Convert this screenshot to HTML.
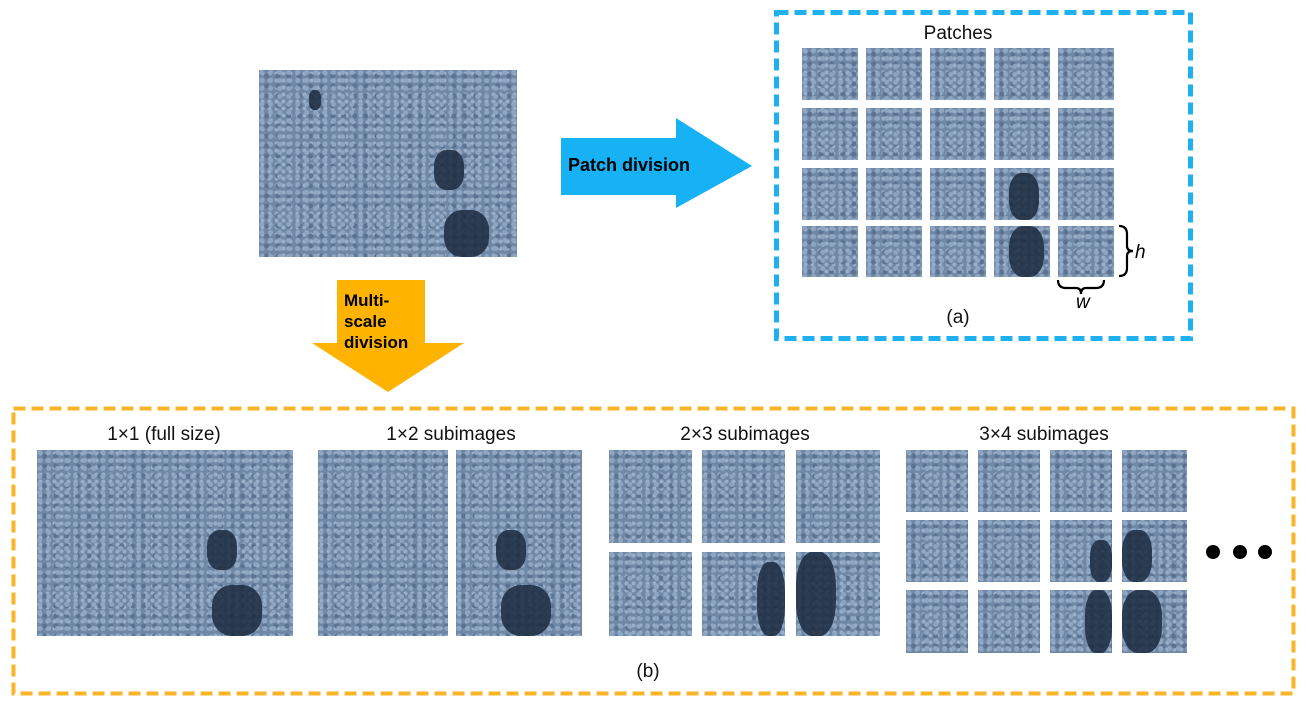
<!DOCTYPE html>
<html><head><meta charset="utf-8"><style>
body{margin:0;width:1307px;height:706px;background:#fff;position:relative;overflow:hidden;font-family:"Liberation Sans",Arial,sans-serif}
.a{position:absolute}
.img{position:absolute;overflow:hidden;background-color:#6f88a6;
background-image:radial-gradient(circle at 30% 30%,#8fa6c2 0 2px,transparent 3px),radial-gradient(circle at 70% 60%,#5b7393 0 2px,transparent 3px),radial-gradient(circle at 50% 50%,#9ab0ca 0 1.5px,transparent 2.5px);
background-size:9px 8px,11px 10px,7px 7px}
.dk{position:absolute;background:#1b2a40;border-radius:40%;opacity:.85}
.t{position:absolute;font-size:19px;color:#111;white-space:nowrap;transform:translateX(-50%)}
.dot{position:absolute;width:14px;height:14px;border-radius:50%;background:#000}
</style></head><body>
<div class="img" style="left:259px;top:70px;width:258px;height:187px">
<div class="dk" style="left:175px;top:80px;width:30px;height:40px"></div>
<div class="dk" style="left:185px;top:140px;width:45px;height:47px"></div>
<div class="dk" style="left:50px;top:20px;width:12px;height:20px"></div>
</div>
<svg class="a" style="left:0;top:0" width="1307" height="706">
<polygon points="561,138 676,138 676,118 752,166 676,208 676,195 561,195" fill="#16b2f5"/>
<polygon points="337,280 425,280 425,343 464,343 388,392 312,343 337,343" fill="#fdb300"/>
<rect x="776.5" y="12.5" width="414" height="326" fill="none" stroke="#1fb0f0" stroke-width="5" stroke-dasharray="12,6"/>
<rect x="13.5" y="408.5" width="1280" height="285" fill="none" stroke="#f9b42a" stroke-width="4" stroke-dasharray="12,6"/>
<path d="M1119,226 q8,0 8,8 v12 q0,5 6,5 q-6,0 -6,5 v12 q0,8 -8,8" fill="none" stroke="#000" stroke-width="2.2"/>
<path d="M1058,280 q0,8 8,8 h10 q5,0 5,6 q0,-6 5,-6 h10 q8,0 8,-8" fill="none" stroke="#000" stroke-width="2.2"/>
</svg>
<div class="a" style="left:568px;top:155px;font-weight:bold;font-size:18px">Patch division</div>
<div class="a" style="left:344px;top:290px;font-weight:bold;font-size:17px;line-height:21px">Multi-<br>scale<br>division</div>
<div class="t" style="left:958px;top:23px">Patches</div>
<div class="t" style="left:958px;top:307px">(a)</div>
<div class="a" style="left:1135px;top:242px;font-size:19px;font-style:italic">h</div>
<div class="a" style="left:1076px;top:292px;font-size:19px;font-style:italic">w</div>
<!-- patches -->
<div class="img" style="left:802px;top:48px;width:56px;height:52px"></div><div class="img" style="left:866px;top:48px;width:56px;height:52px"></div><div class="img" style="left:930px;top:48px;width:56px;height:52px"></div><div class="img" style="left:994px;top:48px;width:56px;height:52px"></div><div class="img" style="left:1058px;top:48px;width:56px;height:52px"></div>
<div class="img" style="left:802px;top:108px;width:56px;height:52px"></div><div class="img" style="left:866px;top:108px;width:56px;height:52px"></div><div class="img" style="left:930px;top:108px;width:56px;height:52px"></div><div class="img" style="left:994px;top:108px;width:56px;height:52px"></div><div class="img" style="left:1058px;top:108px;width:56px;height:52px"></div>
<div class="img" style="left:802px;top:168px;width:56px;height:52px"></div><div class="img" style="left:866px;top:168px;width:56px;height:52px"></div><div class="img" style="left:930px;top:168px;width:56px;height:52px"></div><div class="img" style="left:994px;top:168px;width:56px;height:52px"><div class="dk" style="left:15px;top:5px;width:30px;height:47px"></div></div><div class="img" style="left:1058px;top:168px;width:56px;height:52px"></div>
<div class="img" style="left:802px;top:226px;width:56px;height:51px"></div><div class="img" style="left:866px;top:226px;width:56px;height:51px"></div><div class="img" style="left:930px;top:226px;width:56px;height:51px"></div><div class="img" style="left:994px;top:226px;width:56px;height:51px"><div class="dk" style="left:15px;top:0;width:35px;height:51px"></div></div><div class="img" style="left:1058px;top:226px;width:56px;height:51px"></div>
<!-- b -->
<div class="t" style="left:164px;top:424px">1×1 (full size)</div>
<div class="t" style="left:451px;top:424px">1×2 subimages</div>
<div class="t" style="left:745px;top:424px">2×3 subimages</div>
<div class="t" style="left:1044px;top:424px">3×4 subimages</div>
<div class="t" style="left:648px;top:661px">(b)</div>
<div class="img" style="left:37px;top:450px;width:256px;height:186px">
<div class="dk" style="left:170px;top:80px;width:30px;height:40px"></div>
<div class="dk" style="left:175px;top:135px;width:50px;height:51px"></div>
</div>
<div class="img" style="left:318px;top:450px;width:130px;height:186px"></div><div class="img" style="left:456px;top:450px;width:126px;height:186px"><div class="dk" style="left:40px;top:80px;width:30px;height:40px"></div><div class="dk" style="left:45px;top:135px;width:50px;height:51px"></div></div>
<div class="img" style="left:609px;top:450px;width:83px;height:93px"></div><div class="img" style="left:702px;top:450px;width:83px;height:93px"></div><div class="img" style="left:796px;top:450px;width:84px;height:93px"></div>
<div class="img" style="left:609px;top:552px;width:83px;height:84px"></div><div class="img" style="left:702px;top:552px;width:83px;height:84px"><div class="dk" style="left:55px;top:10px;width:28px;height:74px"></div></div><div class="img" style="left:796px;top:552px;width:84px;height:84px"><div class="dk" style="left:0;top:0;width:40px;height:84px"></div></div>
<div class="img" style="left:906px;top:450px;width:62px;height:62px"></div><div class="img" style="left:978px;top:450px;width:62px;height:62px"></div><div class="img" style="left:1050px;top:450px;width:62px;height:62px"></div><div class="img" style="left:1122px;top:450px;width:65px;height:62px"></div>
<div class="img" style="left:906px;top:520px;width:62px;height:62px"></div><div class="img" style="left:978px;top:520px;width:62px;height:62px"></div><div class="img" style="left:1050px;top:520px;width:62px;height:62px"><div class="dk" style="left:40px;top:20px;width:22px;height:42px"></div></div><div class="img" style="left:1122px;top:520px;width:65px;height:62px"><div class="dk" style="left:0;top:10px;width:30px;height:52px"></div></div>
<div class="img" style="left:906px;top:590px;width:62px;height:63px"></div><div class="img" style="left:978px;top:590px;width:62px;height:63px"></div><div class="img" style="left:1050px;top:590px;width:62px;height:63px"><div class="dk" style="left:35px;top:0;width:27px;height:63px"></div></div><div class="img" style="left:1122px;top:590px;width:65px;height:63px"><div class="dk" style="left:0;top:0;width:40px;height:63px"></div></div>
<div class="dot" style="left:1206px;top:545px"></div><div class="dot" style="left:1233px;top:545px"></div><div class="dot" style="left:1258px;top:545px"></div>
</body></html>
